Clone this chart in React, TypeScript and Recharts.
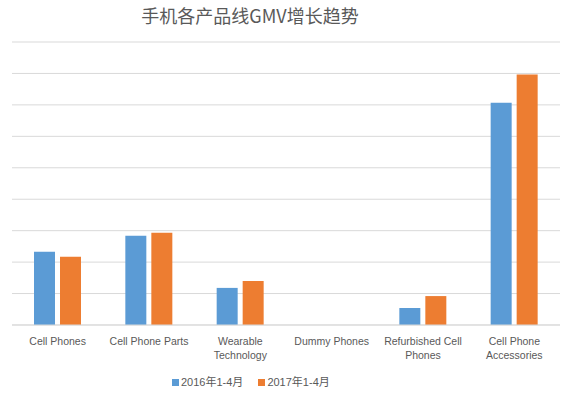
import React from "react";
import { BarChart, Bar, XAxis, YAxis, CartesianGrid } from "recharts";

const categories = [
  "Cell Phones",
  "Cell Phone Parts",
  "Wearable Technology",
  "Dummy Phones",
  "Refurbished Cell Phones",
  "Cell Phone Accessories",
];
const series2016 = [2.33, 2.84, 1.18, 0, 0.54, 7.07];
const series2017 = [2.17, 2.93, 1.4, 0, 0.92, 7.97];
const seriesNames = ["2016年1-4月", "2017年1-4月"];
const seriesColors = ["#5B9BD5", "#ED7D31"];
const yTicks = [0, 1, 2, 3, 4, 5, 6, 7, 8, 9];
const title = "手机各产品线GMV增长趋势";

const data = categories.map((c, i) => ({
  name: c,
  a: series2016[i],
  b: series2017[i],
}));

function wrap(text: string, max: number): string[] {
  const words = text.split(" ");
  const lines: string[] = [];
  let cur = "";
  for (const w of words) {
    const next = cur ? cur + " " + w : w;
    if (next.length > max && cur) {
      lines.push(cur);
      cur = w;
    } else {
      cur = next;
    }
  }
  if (cur) lines.push(cur);
  return lines;
}

const Tick = (props: any) => {
  const { x, y, payload } = props;
  const lines = wrap(String(payload.value), 16);
  return (
    <g>
      {lines.map((l, i) => (
        <text
          key={i}
          x={x}
          y={y + 12 + i * 14}
          textAnchor="middle"
          fill="#595959"
          fontSize={10.5}
          fontFamily="'Liberation Sans', Arial, sans-serif"
        >
          {l}
        </text>
      ))}
    </g>
  );
};

export default function App() {
  return (
    <div
      style={{
        position: "absolute",
        left: 0,
        top: 0,
        width: 567,
        height: 394,
        background: "#fff",
      }}
    >
      <div
        style={{
          position: "absolute",
          left: 0,
          width: 500,
          top: 6,
          textAlign: "center",
          fontSize: 18,
          lineHeight: "18px",
          color: "#595959",
          fontFamily: "'Noto Sans CJK SC', sans-serif",
        }}
      >
        {title}
      </div>
      <BarChart
        width={567}
        height={394}
        data={data}
        margin={{ top: 42, right: 7, bottom: 29, left: 12 }}
        barSize={21}
        barGap={5}
      >
        <CartesianGrid vertical={false} stroke="#d9d9d9" />
        <XAxis
          dataKey="name"
          height={40}
          interval={0}
          tickLine={false}
          axisLine={{ stroke: "#d9d9d9" }}
          tick={<Tick />}
        />
        <YAxis hide domain={[0, 9]} ticks={yTicks} />
        <Bar dataKey="a" name={seriesNames[0]} fill={seriesColors[0]} isAnimationActive={false} />
        <Bar dataKey="b" name={seriesNames[1]} fill={seriesColors[1]} isAnimationActive={false} />
      </BarChart>
      <div
        style={{
          position: "absolute",
          left: 172,
          top: 375,
          display: "flex",
          alignItems: "center",
          fontSize: 11,
          lineHeight: "14px",
          color: "#595959",
          fontFamily: "'Liberation Sans', 'Noto Sans CJK SC', sans-serif",
          whiteSpace: "nowrap",
        }}
      >
        {seriesNames.map((n, i) => (
          <div key={n} style={{ display: "flex", alignItems: "center", marginRight: i === 0 ? 15 : 0 }}>
            <span
              style={{
                display: "inline-block",
                width: 7,
                height: 7,
                background: seriesColors[i],
                marginRight: 2,
              }}
            />
            <span>{n}</span>
          </div>
        ))}
      </div>
    </div>
  );
}
